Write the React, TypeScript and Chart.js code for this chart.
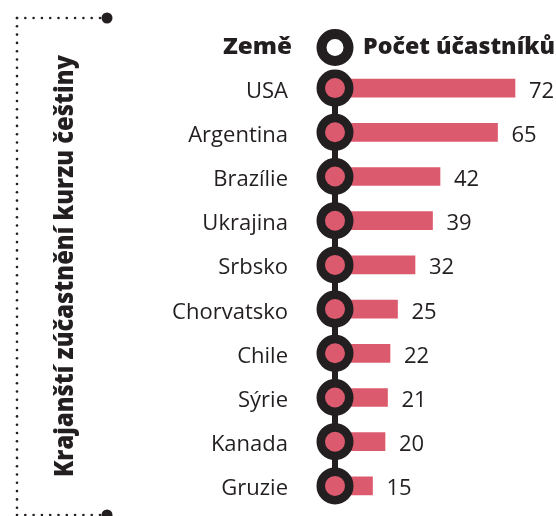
import React, { useEffect, useRef } from "react";
import { Chart, registerables } from "chart.js";

Chart.register(...registerables);

const countries = [
  "USA",
  "Argentina",
  "Brazílie",
  "Ukrajina",
  "Srbsko",
  "Chorvatsko",
  "Chile",
  "Sýrie",
  "Kanada",
  "Gruzie",
];
const participants = [72, 65, 42, 39, 32, 25, 22, 21, 20, 15];

const headerCountry = "Země";
const headerCount = "Počet účastníků";
const sideTitle = "Krajanští zúčastnění kurzu češtiny";

const INK = "#231f20";
const PINK = "#dc5a6e";
const FONT = "'Open Sans', 'Noto Sans', sans-serif";

// draws text so it occupies a given width
function fitText(ctx: CanvasRenderingContext2D, text: string, x: number, y: number, width: number) {
  const w = ctx.measureText(text).width;
  ctx.save();
  ctx.translate(x, y);
  ctx.scale(width / w, 1);
  ctx.fillText(text, 0, 0);
  ctx.restore();
}

const decorPlugin = {
  id: "decor",
  afterDatasetsDraw(chart: any) {
    const ctx: CanvasRenderingContext2D = chart.ctx;
    const xs = chart.scales.x;
    const ys = chart.scales.y;
    const x0 = xs.getPixelForValue(0);
    const yFirst = ys.getPixelForValue(0);
    const yLast = ys.getPixelForValue(countries.length - 1);

    ctx.save();

    // connector through the markers
    ctx.strokeStyle = INK;
    ctx.lineWidth = 6;
    ctx.beginPath();
    ctx.moveTo(x0, yFirst);
    ctx.lineTo(x0, yLast);
    ctx.stroke();

    // ringed markers and labels
    countries.forEach((name, i) => {
      const y = ys.getPixelForValue(i);
      ctx.beginPath();
      ctx.arc(x0, y, 14.25, 0, Math.PI * 2);
      ctx.fillStyle = PINK;
      ctx.fill();
      ctx.lineWidth = 8.5;
      ctx.strokeStyle = INK;
      ctx.stroke();

      ctx.fillStyle = INK;
      ctx.font = `400 22px ${FONT}`;
      ctx.textBaseline = "alphabetic";
      ctx.textAlign = "right";
      ctx.fillText(name, 288, y + 9.5);

      const xe = xs.getPixelForValue(participants[i]);
      ctx.textAlign = "left";
      ctx.fillText(String(participants[i]), xe + 14, y + 9.5);
    });

    // header row
    const hy = 47.5;
    ctx.beginPath();
    ctx.arc(x0, hy, 13.5, 0, Math.PI * 2);
    ctx.fillStyle = "#ffffff";
    ctx.fill();
    ctx.lineWidth = 10;
    ctx.strokeStyle = INK;
    ctx.stroke();

    ctx.fillStyle = INK;
    ctx.font = `800 23px ${FONT}`;
    ctx.textAlign = "left";
    fitText(ctx, headerCountry, 223, 54, 69);
    fitText(ctx, headerCount, 363, 54, 192);

    // dotted frame
    const dot = (x: number, y: number, r: number) => {
      ctx.beginPath();
      ctx.arc(x, y, r, 0, Math.PI * 2);
      ctx.fill();
    };
    ctx.fillStyle = INK;
    const step = 8.3;
    for (let x = 17; x < 100; x += step) dot(x, 18, 1.3);
    for (let y = 18; y < 516; y += step) dot(17, y, 1.3);
    for (let x = 17; x < 100; x += step) dot(x, 515, 1.3);
    dot(107, 18, 5.5);
    dot(107, 515, 5.5);

    // side title, reading upwards
    ctx.font = `800 26px ${FONT}`;
    ctx.textAlign = "left";
    ctx.textBaseline = "alphabetic";
    ctx.save();
    ctx.translate(73, 477);
    ctx.rotate(-Math.PI / 2);
    fitText(ctx, sideTitle, 0, 0, 422);
    ctx.restore();

    ctx.restore();
  },
};

export default function App() {
  const ref = useRef<HTMLCanvasElement | null>(null);

  useEffect(() => {
    if (!ref.current) return;
    const chart = new Chart(ref.current, {
      type: "bar",
      data: {
        labels: countries,
        datasets: [
          {
            data: participants,
            backgroundColor: PINK,
            borderWidth: 0,
            barThickness: 18,
          },
        ],
      },
      options: {
        indexAxis: "y",
        responsive: false,
        animation: false,
        layout: { padding: { left: 335, right: 21, top: 66, bottom: 8 } },
        scales: {
          x: { display: false, min: 0, max: 80 },
          y: { display: false, offset: true },
        },
        plugins: {
          legend: { display: false },
          tooltip: { enabled: false },
          title: { display: false },
        },
      },
      plugins: [decorPlugin],
    });
    return () => chart.destroy();
  }, []);

  return (
    <div style={{ position: "absolute", left: 0, top: 0, width: 556, height: 516, background: "#fff" }}>
      <canvas ref={ref} width={556} height={516} style={{ display: "block" }} />
    </div>
  );
}
